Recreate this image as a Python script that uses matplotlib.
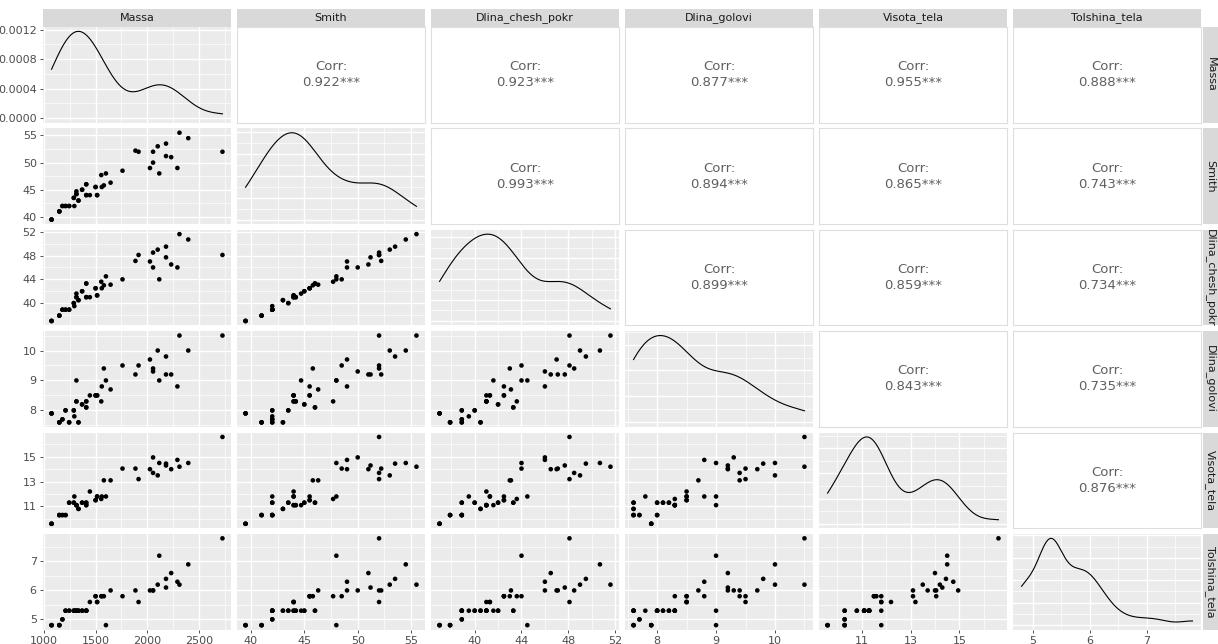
import numpy as np
import matplotlib
matplotlib.use("Agg")
import matplotlib.pyplot as plt
from matplotlib.ticker import FixedLocator, AutoMinorLocator, MaxNLocator

# variables
names = ["Massa", "Smith", "Dlina_chesh_pokr", "Dlina_golovi", "Visota_tela", "Tolshina_tela"]

# visible points, then rows that sit exactly on top of visible ones
massa = [1075, 1150, 1180, 1210, 1245, 1290, 1295, 1315, 1315, 1335, 1370, 1410,
         1410, 1445, 1500, 1515, 1555, 1560, 1580, 1600, 1645, 1760, 1885, 1915,
         2025, 2055, 2055, 2100, 2115, 2180, 2180, 2230, 2290, 2310, 2395, 2725,
         1075, 1075, 1150, 1150, 1180, 1210, 1245, 1290, 1315, 1370, 1410, 1410,
         1500, 1515, 1335]
smith = [39.5, 41, 42, 42, 42, 43.5, 42, 44.7, 44.2, 43, 45, 46,
         44, 44, 45.5, 44, 47.7, 45.5, 45.8, 48, 46.3, 48.5, 52.2, 52,
         49, 50, 52, 53, 48, 53.5, 51.2, 51, 49, 55.5, 54.5, 52,
         39.5, 39.5, 41, 41, 42, 42, 42, 43.5, 44.2, 45, 46, 44,
         45.5, 44, 43]
dlina_chesh = [37.0, 37.9, 38.9, 38.9, 38.9, 40.0, 39.5, 41.6, 41.0, 40.5, 42.0, 43.3,
               41.0, 41.0, 42.5, 41.3, 43.6, 42.5, 43.0, 44.5, 43.1, 44.0, 47.1, 48.1,
               47.0, 46.0, 48.5, 49.0, 44.0, 49.5, 47.7, 46.5, 46.0, 51.6, 50.7, 48.1,
               37.0, 37.0, 37.9, 37.9, 38.9, 38.9, 38.9, 40.0, 41.0, 42.0, 43.3, 41.0,
               42.5, 41.3, 40.5]
dlina_golovi = [7.9, 7.6, 7.7, 8.0, 7.6, 8.0, 7.8, 9.0, 8.3, 7.6, 8.2, 8.1,
                8.3, 8.5, 8.5, 8.5, 8.3, 8.8, 9.4, 9.0, 8.7, 9.5, 9.2, 9.5,
                9.7, 9.3, 9.4, 10.0, 9.0, 9.8, 9.2, 9.2, 8.8, 10.5, 10.0, 10.5,
                7.9, 7.9, 7.6, 7.6, 7.7, 8.0, 7.6, 8.0, 8.3, 8.2, 8.1, 8.3,
                8.5, 8.5, 7.6]
visota = [9.6, 10.3, 10.3, 10.3, 11.3, 11.3, 11.8, 11.1, 11.1, 10.8, 11.3, 11.3,
          11.1, 12.2, 11.5, 11.8, 11.6, 11.8, 13.1, 11.8, 13.1, 14.05, 14.05, 13.2,
          14.0, 14.95, 13.7, 13.5, 14.5, 14.45, 14.3, 14.0, 14.75, 14.2, 14.5, 16.6,
          9.6, 9.6, 10.3, 10.3, 10.3, 10.3, 11.3, 11.3, 11.1, 11.3, 11.3, 11.1,
          11.5, 11.8, 10.8]
tolshina = [4.8, 4.8, 5.0, 5.3, 5.3, 5.3, 5.3, 5.3, 5.3, 5.3, 5.3, 5.3,
            5.3, 5.6, 5.8, 5.6, 5.8, 5.8, 5.8, 4.8, 6.0, 5.8, 6.0, 5.6,
            6.0, 6.0, 6.0, 6.2, 7.2, 6.4, 6.1, 6.6, 6.3, 6.2, 6.9, 7.8,
            4.8, 4.8, 4.8, 4.8, 5.0, 5.3, 5.3, 5.3, 5.3, 5.3, 5.3, 5.3,
            5.8, 5.6, 5.3]

data = [massa, smith, dlina_chesh, dlina_golovi, visota, tolshina]

# tick breaks per variable
breaks = [[1000, 1500, 2000, 2500], [40, 45, 50, 55], [40, 44, 48, 52],
          [8, 9, 10], [11, 13, 15], [5, 6, 7]]
dens_breaks = [0.0, 0.0004, 0.0008, 0.0012]

# correlation labels, upper triangle (row, col)
corr = {(0, 1): "0.922***", (0, 2): "0.923***", (0, 3): "0.877***", (0, 4): "0.955***", (0, 5): "0.888***",
        (1, 2): "0.993***", (1, 3): "0.894***", (1, 4): "0.865***", (1, 5): "0.743***",
        (2, 3): "0.899***", (2, 4): "0.859***", (2, 5): "0.734***",
        (3, 4): "0.843***", (3, 5): "0.735***",
        (4, 5): "0.876***"}


def kde_nrd0(x, n=512):
    # gaussian density with R's bw.nrd0
    x = np.asarray(x, float)
    sd = x.std(ddof=1)
    q75, q25 = np.percentile(x, [75, 25])
    bw = 0.9 * min(sd, (q75 - q25) / 1.34) * len(x) ** -0.2
    grid = np.linspace(x.min(), x.max(), n)
    d = np.exp(-0.5 * ((grid[:, None] - x[None, :]) / bw) ** 2).sum(1)
    return grid, d / (len(x) * bw * np.sqrt(2 * np.pi))


W, H = 1218, 644
fig = plt.figure(figsize=(W / 100, H / 100), dpi=100)

left0, top0 = 43, 27
pw, ph = 188, 95.5
cpitch, rpitch = 194, 101.4
strip = 18
bg = "#EBEBEB"
tick_col = "#4D4D4D"


def ax_at(x, y, w, h):
    return fig.add_axes([x / W, 1 - (y + h) / H, w / W, h / H])


def style_grid(ax, xb, yb, ylocator=None):
    ax.set_facecolor(bg)
    for s in ax.spines.values():
        s.set_visible(False)
    ax.xaxis.set_major_locator(FixedLocator(xb))
    if ylocator is None:
        ax.yaxis.set_major_locator(FixedLocator(yb))
    else:
        ax.yaxis.set_major_locator(ylocator)
    ax.xaxis.set_minor_locator(AutoMinorLocator(2))
    ax.yaxis.set_minor_locator(AutoMinorLocator(2))
    ax.grid(True, which="major", color="white", lw=1.0)
    ax.grid(True, which="minor", color="white", lw=0.5)
    ax.set_axisbelow(True)
    ax.tick_params(which="minor", length=0)
    ax.tick_params(which="major", length=0, labelbottom=False, labelleft=False)


n = len(names)
for i in range(n):
    for j in range(n):
        x0 = left0 + j * cpitch
        y0 = top0 + i * rpitch
        ax = ax_at(x0, y0, pw, ph)
        xv = np.array(data[j], float)
        xr = xv.max() - xv.min()
        xlim = (xv.min() - 0.05 * xr, xv.max() + 0.05 * xr)

        if i < j:
            # correlation panel
            ax.set_facecolor("white")
            for s in ax.spines.values():
                s.set_color("#DEDEDE")
                s.set_linewidth(0.8)
            ax.set_xticks([])
            ax.set_yticks([])
            ax.text(0.5, 0.5, "Corr:\n" + corr[(i, j)], transform=ax.transAxes,
                    ha="center", va="center", fontsize=9.5, color="#5F5F5F",
                    linespacing=1.3)
        elif i == j:
            g, d = kde_nrd0(xv)
            if i == 0:
                style_grid(ax, breaks[j], dens_breaks)
            else:
                style_grid(ax, breaks[j], None, MaxNLocator(5))
            ax.plot(g, d, color="black", lw=0.8)
            ax.set_xlim(xlim)
            ax.set_ylim(-0.05 * d.max(), 1.05 * d.max())
        else:
            yv = np.array(data[i], float)
            style_grid(ax, breaks[j], breaks[i])
            ax.scatter(xv, yv, s=11, color="black", edgecolors="none", zorder=3)
            ax.set_xlim(xlim)
            yr = yv.max() - yv.min()
            ax.set_ylim(yv.min() - 0.05 * yr, yv.max() + 0.05 * yr)

        if j == 0:
            if i == 0:
                ax.yaxis.set_major_locator(FixedLocator(dens_breaks))
                ax.yaxis.set_major_formatter(lambda v, p: f"{v:.4f}")
            ax.tick_params(axis="y", which="major", length=2.5, width=0.6, color="#333333",
                           labelleft=True, labelsize=8, labelcolor=tick_col, pad=2)
        if i == n - 1:
            ax.tick_params(axis="x", which="major", length=2.5, width=0.6, color="#333333",
                           labelbottom=True, labelsize=8, labelcolor=tick_col, pad=2)

        # strips
        if i == 0:
            sax = ax_at(x0, top0 - strip, pw, strip)
            sax.set_facecolor("#D9D9D9")
            sax.set_xticks([])
            sax.set_yticks([])
            for s in sax.spines.values():
                s.set_visible(False)
            sax.text(0.5, 0.5, names[j], transform=sax.transAxes, ha="center",
                     va="center", fontsize=8, color="#1A1A1A")
        if j == n - 1:
            sax = ax_at(x0 + pw + 2, y0, 15, ph)
            sax.set_facecolor("#D9D9D9")
            sax.set_xticks([])
            sax.set_yticks([])
            for s in sax.spines.values():
                s.set_visible(False)
            sax.text(0.5, 0.5, names[i], transform=sax.transAxes, ha="center",
                     va="center", fontsize=8, color="#1A1A1A", rotation=-90)

fig.savefig("out.png", dpi=100, facecolor="white")
